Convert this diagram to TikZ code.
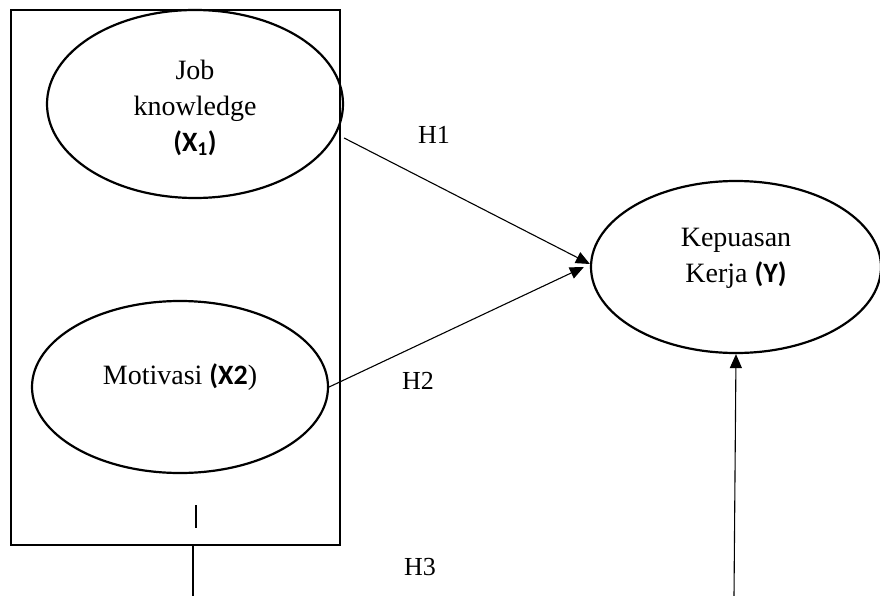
\documentclass[tikz,border=0pt]{standalone}
\usepackage{fontspec}
\setmainfont{Liberation Serif}
\newfontfamily\carlfont{Carlito}
\usetikzlibrary{shapes.geometric,arrows.meta}
\newcommand{\bsans}[1]{{\carlfont\bfseries #1}}
\begin{document}
\begin{tikzpicture}[x=1pt,y=-1pt,
  oval/.style={draw,ellipse,line width=2.2pt,inner sep=0pt},
  frame/.style={draw,rectangle,line width=2.6pt,inner sep=0pt},
  txt/.style={font=\fontsize{28}{36}\selectfont,align=center,inner sep=0pt},
  hlab/.style={font=\fontsize{26}{30}\selectfont,inner sep=0pt},
  arr/.style={line width=1.1pt,-{Triangle[length=14pt,width=12pt]}},
  plain/.style={line width=1.1pt}]
\useasboundingbox (0,0) rectangle (880,596);
\node[frame,minimum width=329pt,minimum height=535pt] (box) at (175.5,277.5) {};
\node[oval,minimum width=296pt,minimum height=188pt] (e1) at (195,104) {};
\node[oval,minimum width=296pt,minimum height=172pt] (e2) at (180,387) {};
\node[oval,minimum width=290pt,minimum height=172pt] (ey) at (736,267) {};
\node[txt] (t1) at (195,108) {Job\\knowledge\\\bsans{(X\textsubscript{1})}};
\node[txt] (t2) at (180,377) {Motivasi \bsans{(X2})};
\node[txt] (ty) at (736,258) {Kepuasan\\Kerja \bsans{(Y)}};
\node[hlab] (h1) at (434,135) {H1};
\node[hlab] (h2) at (418,381) {H2};
\node[hlab] (h3) at (420,567) {H3};
\coordinate (tickA) at (196,505);
\coordinate (tickB) at (196,528);
\coordinate (h3top) at (193,546);
\coordinate (h3bot) at (193,596);
\coordinate (ybot) at (734,596);
\draw[arr] ([yshift=-34pt]e1.east) -- ([yshift=3pt]ey.west);
\draw[arr] (e2.east) -- ([xshift=-6pt]ey.west);
\draw[arr] (ybot) -- (ey.south);
\draw[plain] (tickA) -- (tickB);
\draw[plain] (h3top) -- (h3bot);
\end{tikzpicture}
\end{document}
